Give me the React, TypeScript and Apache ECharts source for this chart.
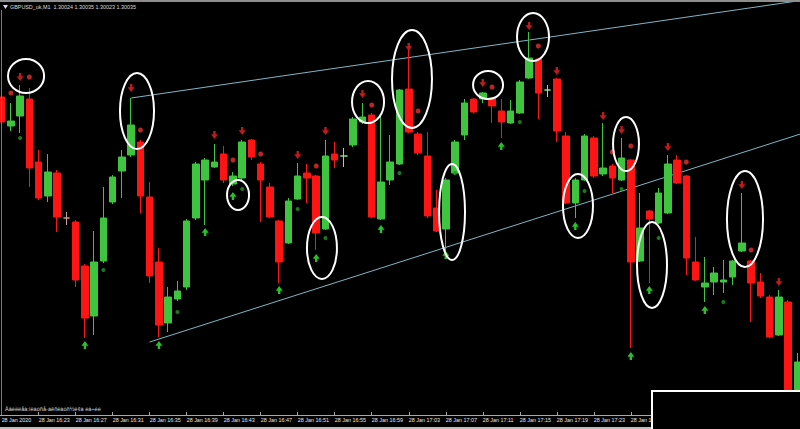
import React, { useEffect, useRef } from "react";
import * as echarts from "echarts";

const FONT = "'Liberation Sans', Arial, sans-serif";

const times = [
  "16:19","16:20","16:21","16:22","16:23","16:24","16:25","16:26","16:27","16:28",
  "16:29","16:30","16:31","16:32","16:33","16:34","16:35","16:36","16:37","16:38",
  "16:39","16:40","16:41","16:42","16:43","16:44","16:45","16:46","16:47","16:48",
  "16:49","16:50","16:51","16:52","16:53","16:54","16:55","16:56","16:57","16:58",
  "16:59","17:00","17:01","17:02","17:03","17:04","17:05","17:06","17:07","17:08",
  "17:09","17:10","17:11","17:12","17:13","17:14","17:15","17:16","17:17","17:18",
  "17:19","17:20","17:21","17:22","17:23","17:24","17:25","17:26","17:27","17:28",
  "17:29","17:30","17:31","17:32","17:33","17:34","17:35","17:36","17:37","17:38",
  "17:39","17:40","17:41","17:42","17:43","17:44","17:45",
];

const openP = [
  1.30303,1.30274,1.30284,1.30301,1.30238,1.30204,1.30227,1.30182,1.30178,1.30134,
  1.30084,1.30139,1.30198,1.30229,1.30245,1.30258,1.30203,1.30138,1.30077,1.30101,
  1.30113,1.30182,1.30220,1.30233,1.30246,1.30216,1.30222,1.30260,1.30236,1.30213,
  1.30179,1.30157,1.30201,1.30227,1.30224,1.30171,1.30246,1.30244,1.30255,1.30278,
  1.30285,1.30181,1.30220,1.30236,1.30311,1.30266,1.30244,1.30192,1.30171,1.30227,
  1.30265,1.30301,1.30301,1.30302,1.30289,1.30277,1.30287,1.30322,1.30341,1.30310,
  1.30321,1.30264,1.30197,1.30220,1.30262,1.30226,1.30234,1.30220,1.30240,1.30139,
  1.30189,1.30177,1.30187,1.30240,1.30224,1.30138,1.30113,1.30118,1.30118,1.30123,
  1.30149,1.30139,1.30118,1.30103,1.30065,1.30098,1.30002,
];
const closeP = [
  1.30278,1.30279,1.30304,1.30232,1.30202,1.30228,1.30183,1.30182,1.30120,1.30082,
  1.30138,1.30182,1.30223,1.30243,1.30275,1.30204,1.30124,1.30075,1.30103,1.30109,
  1.30179,1.30236,1.30240,1.30238,1.30220,1.30224,1.30258,1.30243,1.30220,1.30183,
  1.30138,1.30199,1.30224,1.30222,1.30167,1.30244,1.30240,1.30244,1.30281,1.30283,
  1.30183,1.30218,1.30238,1.30310,1.30268,1.30247,1.30184,1.30169,1.30220,1.30258,
  1.30297,1.30288,1.30307,1.30294,1.30278,1.30289,1.30318,1.30342,1.30307,1.30310,
  1.30269,1.30197,1.30220,1.30264,1.30224,1.30232,1.30222,1.30242,1.30138,1.30172,
  1.30181,1.30207,1.30236,1.30217,1.30142,1.30120,1.30117,1.30127,1.30120,1.30139,
  1.30157,1.30117,1.30104,1.30063,1.30103,1.30002,1.30038,
];
const highP = [
  1.30313,1.30297,1.30315,1.30312,1.30250,1.30246,1.30230,1.30188,1.30180,1.30136,
  1.30169,1.30213,1.30225,1.30250,1.30302,1.30260,1.30218,1.30152,1.30113,1.30119,
  1.30181,1.30238,1.30242,1.30256,1.30254,1.30228,1.30260,1.30261,1.30238,1.30217,
  1.30180,1.30202,1.30237,1.30236,1.30225,1.30260,1.30258,1.30252,1.30283,1.30297,
  1.30287,1.30285,1.30265,1.30311,1.30350,1.30268,1.30268,1.30210,1.30222,1.30260,
  1.30301,1.30302,1.30308,1.30303,1.30301,1.30300,1.30320,1.30368,1.30342,1.30315,
  1.30322,1.30268,1.30222,1.30266,1.30264,1.30277,1.30236,1.30262,1.30241,1.30207,
  1.30190,1.30212,1.30245,1.30245,1.30225,1.30163,1.30143,1.30133,1.30140,1.30140,
  1.30207,1.30140,1.30127,1.30105,1.30110,1.30100,1.30047,
];
const lowP = [
  1.30275,1.30269,1.30267,1.30213,1.30200,1.30198,1.30168,1.30175,1.30113,1.30062,
  1.30065,1.30137,1.30196,1.30202,1.30243,1.30187,1.30117,1.30063,1.30068,1.30099,
  1.30110,1.30180,1.30175,1.30232,1.30217,1.30214,1.30220,1.30240,1.30178,1.30182,
  1.30117,1.30156,1.30200,1.30197,1.30150,1.30170,1.30232,1.30233,1.30253,1.30276,
  1.30182,1.30180,1.30215,1.30235,1.30267,1.30245,1.30182,1.30168,1.30147,1.30225,
  1.30260,1.30287,1.30297,1.30277,1.30262,1.30276,1.30286,1.30321,1.30281,1.30303,
  1.30258,1.30196,1.30182,1.30219,1.30222,1.30224,1.30207,1.30219,1.30052,1.30138,
  1.30117,1.30176,1.30186,1.30216,1.30125,1.30119,1.30098,1.30105,1.30107,1.30115,
  1.30148,1.30078,1.30102,1.30062,1.30064,1.30000,1.30000,
];

// signal arrows / dots: [candle index, price]
const sellArrows = [
  [2, 1.30323], [14, 1.30312], [23, 1.30265], [26, 1.30269], [32, 1.30245], [35, 1.30269],
  [39, 1.30306], [44, 1.30353], [52, 1.30317], [57, 1.30374], [60, 1.30329], [65, 1.30284],
  [67, 1.30270], [72, 1.30253], [80, 1.30215], [84, 1.30118],
];
const buyArrows = [
  [9, 1.30055], [17, 1.30055], [22, 1.30168], [25, 1.30204], [30, 1.30110], [34, 1.30142],
  [41, 1.30171], [48, 1.30145], [54, 1.30254], [62, 1.30174], [68, 1.30044], [70, 1.30110],
  [76, 1.30090],
];
const redDots = [
  [1, 1.30307], [3, 1.30323], [15, 1.30270], [25, 1.30240], [28, 1.30246], [34, 1.30234],
  [40, 1.30295], [45, 1.30289], [53, 1.30313], [58, 1.30354], [66, 1.30248], [68, 1.30254],
  [74, 1.30238], [81, 1.30150],
];
const greenDots = [
  [2, 1.30262], [11, 1.30130], [19, 1.30088], [26, 1.30211], [32, 1.30191], [35, 1.30162],
  [43, 1.30227], [49, 1.30227], [56, 1.30278], [63, 1.30209], [67, 1.30211], [71, 1.30162],
  [78, 1.30098],
];

// trend lines: [startIndex, startPrice, endIndex, endPrice]
const trendLines = [
  [14, 1.30302, 86, 1.30399],
  [16, 1.30058, 86, 1.30265],
];

// ellipses: [candle index, top price, bottom price, x offset (candles), half width (candles)]
const ellipses = [
  [3, 1.30341, 1.30307, -0.36, 1.95],
  [15, 1.30327, 1.30251, -0.37, 1.84],
  [26, 1.30220, 1.30190, -0.45, 1.19],
  [35, 1.30183, 1.30121, -0.38, 1.62],
  [40, 1.30319, 1.30277, -0.4, 1.73],
  [44, 1.30370, 1.30272, 0.35, 2.16],
  [49, 1.30236, 1.30140, -0.32, 1.4],
  [53, 1.30329, 1.30301, -0.43, 1.62],
  [57, 1.30387, 1.30339, 0.43, 1.73],
  [62, 1.30226, 1.30162, 0.29, 1.62],
  [67, 1.30283, 1.30229, 0.48, 1.4],
  [70, 1.30178, 1.30092, 0.29, 1.62],
  [80, 1.30229, 1.30133, 0.34, 1.95],
];

// last category index whose time label is not hidden under the bottom-right panel
const lastLabelIndex = 68;

const dojiColors: Record<number, string> = { 7: "#c99a9a", 37: "#8fe08f", 59: "#8fe08f" };

const UP = "#3ec43e";
const DOWN = "#ff1414";

const DOWN_ARROW = "path://M3.3,0 L6.7,0 L6.7,4 L10,4 L5,9.5 L0,4 L3.3,4 Z";
const UP_ARROW = "path://M3.3,9.5 L6.7,9.5 L6.7,5.5 L10,5.5 L5,0 L0,5.5 L3.3,5.5 Z";

export default function App() {
  const ref = useRef<HTMLDivElement>(null);

  useEffect(() => {
    document.body.style.margin = "0";
    document.body.style.background = "#000";
    if (!ref.current) return;
    const chart = echarts.init(ref.current, undefined, { renderer: "svg" });

    const candleData = times.map((_, i) => {
      const v = [openP[i], closeP[i], lowP[i], highP[i]];
      const dc = dojiColors[i];
      if (dc) {
        return {
          value: v,
          itemStyle: { color: dc, color0: dc, borderColor: dc, borderColor0: dc, borderColorDoji: dc },
        };
      }
      return v;
    });

    const option: any = {
      animation: false,
      backgroundColor: "#000",
      grid: { left: -3, right: -2, top: 0, bottom: 14, containLabel: false, outerBoundsMode: "none" },
      xAxis: {
        type: "category",
        data: times,
        boundaryGap: true,
        axisLine: { show: true, lineStyle: { color: "#a8a8a8", width: 1 } },
        axisTick: {
          show: true,
          inside: true,
          length: 3,
          alignWithLabel: true,
          interval: 3,
          lineStyle: { color: "#a8a8a8" },
        },
        axisLabel: {
          interval: (i: number) => i % 4 === 0 && i <= lastLabelIndex,
          align: "left",
          margin: 2,
          color: "#e8e8e8",
          fontSize: 5.4,
          fontFamily: FONT,
          hideOverlap: false,
          formatter: (v: string, i: number) => (i === 0 ? "28 Jan 2020" : "28 Jan " + v),
        },
        splitLine: { show: false },
      },
      yAxis: {
        type: "value",
        min: 1.29985,
        max: 1.304,
        show: false,
        splitLine: { show: false },
      },
      series: [
        {
          type: "custom",
          name: "trend",
          coordinateSystem: "cartesian2d",
          z: 1,
          silent: true,
          clip: false,
          encode: { x: [0, 2], y: [1, 3] },
          data: trendLines,
          renderItem: (params: any, api: any) => {
            const a = api.coord([api.value(0), api.value(1)]);
            const b = api.coord([api.value(2), api.value(3)]);
            const cs = params.coordSys;
            const xr = cs.x + cs.width;
            const t = (xr - a[0]) / (b[0] - a[0]);
            return {
              type: "line",
              shape: { x1: a[0], y1: a[1], x2: xr, y2: a[1] + t * (b[1] - a[1]) },
              style: { stroke: "#7fb6c6", lineWidth: 1 },
            };
          },
        },
        {
          type: "candlestick",
          name: "GBPUSD_uk,M1",
          z: 2,
          barWidth: 7,
          data: candleData,
          itemStyle: {
            color: UP,
            color0: DOWN,
            borderColor: UP,
            borderColor0: DOWN,
            borderWidth: 1,
          },
        },
        {
          type: "scatter",
          name: "sell",
          z: 3,
          symbol: DOWN_ARROW,
          symbolSize: [7, 8],
          itemStyle: { color: "#ee2222" },
          data: sellArrows,
        },
        {
          type: "scatter",
          name: "buy",
          z: 3,
          symbol: UP_ARROW,
          symbolSize: [7, 8],
          itemStyle: { color: "#33f033" },
          data: buyArrows,
        },
        {
          type: "scatter",
          name: "redDot",
          z: 3,
          symbol: "circle",
          symbolSize: 5,
          itemStyle: { color: "#e83030" },
          data: redDots,
        },
        {
          type: "scatter",
          name: "greenDot",
          z: 3,
          symbol: "circle",
          symbolSize: 4,
          itemStyle: { color: "#1f9a1f" },
          data: greenDots,
        },
        {
          type: "custom",
          name: "marks",
          coordinateSystem: "cartesian2d",
          z: 4,
          silent: true,
          clip: false,
          encode: { x: 0, y: [1, 2] },
          data: ellipses,
          renderItem: (_params: any, api: any) => {
            const idx = api.value(0);
            const band = api.size([1, 0])[0];
            const p0 = api.coord([idx, api.value(1)]);
            const p1 = api.coord([idx, api.value(2)]);
            const cx = p0[0] + api.value(3) * band;
            return {
              type: "ellipse",
              shape: {
                cx,
                cy: (p0[1] + p1[1]) / 2,
                rx: api.value(4) * band,
                ry: Math.abs(p1[1] - p0[1]) / 2,
              },
              style: { fill: "none", stroke: "#ffffff", lineWidth: 2 },
            };
          },
        },
      ],
      graphic: [
        { type: "rect", shape: { x: 0, y: 0, width: 800, height: 2 }, style: { fill: "#8e8e8e" }, z: 20 },
        { type: "rect", shape: { x: 1, y: 10, width: 1, height: 405 }, style: { fill: "#7a7a7a" }, z: 20 },
        { type: "polygon", shape: { points: [[3, 5], [8, 5], [5.5, 9]] }, style: { fill: "#dcdcdc" }, z: 20 },
        {
          type: "text",
          x: 10,
          y: 7,
          z: 20,
          style: {
            text: "GBPUSD_uk,M1  1.30024 1.30035 1.30023 1.30035",
            fill: "#dcdcdc",
            font: `5.4px ${FONT}`,
            verticalAlign: "middle",
          },
        },
        {
          type: "text",
          x: 5,
          y: 409,
          z: 20,
          style: {
            text: "Àäèëëåà:ìëàóñå-àêñëàóñ½ë¢à éà÷éé",
            fill: "#d8d8d8",
            font: `5.6px ${FONT}`,
            verticalAlign: "middle",
          },
        },
        { type: "rect", shape: { x: 0, y: 427, width: 800, height: 2 }, style: { fill: "#bcbcbc" }, z: 20 },
        {
          type: "rect",
          shape: { x: 652, y: 391, width: 150, height: 40 },
          style: { fill: "#000", stroke: "#ffffff", lineWidth: 2 },
          z: 30,
        },
      ],
    };

    chart.setOption(option);
    return () => chart.dispose();
  }, []);

  return <div ref={ref} style={{ width: 800, height: 429, background: "#000" }} />;
}
